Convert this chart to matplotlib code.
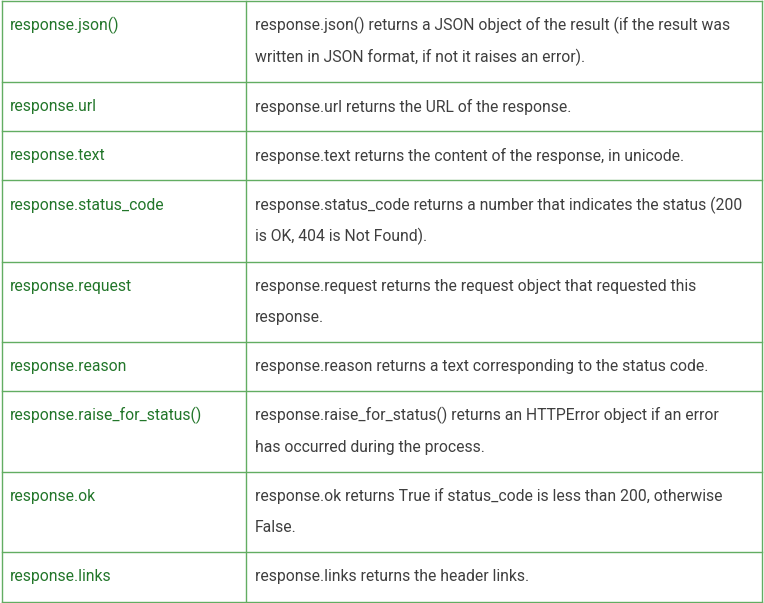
import matplotlib.pyplot as plt

# table content
methods = ['response.json()', 'response.url', 'response.text', 'response.status_code',
           'response.request', 'response.reason', 'response.raise_for_status()',
           'response.ok', 'response.links']
descriptions = [
    ['response.json() returns a JSON object of the result (if the result was',
     'written in JSON format, if not it raises an error).'],
    ['response.url returns the URL of the response.'],
    ['response.text returns the content of the response, in unicode.'],
    ['response.status_code returns a number that indicates the status (200',
     'is OK, 404 is Not Found).'],
    ['response.request returns the request object that requested this',
     'response.'],
    ['response.reason returns a text corresponding to the status code.'],
    ['response.raise_for_status() returns an HTTPError object if an error',
     'has occurred during the process.'],
    ['response.ok returns True if status_code is less than 200, otherwise',
     'False.'],
    ['response.links returns the header links.'],
]

# row edges in pixels (top to bottom)
row_edges = [1, 82, 131, 180, 262, 342, 391, 472, 552, 602]
col_edges = [2, 246, 762]

line_color = '#62ad62'
method_color = '#22762a'
text_color = '#3f3f3f'
line_gap = 31.5

fig = plt.figure(figsize=(7.64, 6.03), dpi=100)
ax = fig.add_axes([0, 0, 1, 1])
ax.set_xlim(0, 764)
ax.set_ylim(603, 0)
ax.axis('off')

for y in row_edges:
    ax.plot([col_edges[0], col_edges[-1]], [y, y], color=line_color, lw=1.0)
for x in col_edges:
    ax.plot([x, x], [row_edges[0], row_edges[-1]], color=line_color, lw=1.0)

for i, (m, desc) in enumerate(zip(methods, descriptions)):
    top, bottom = row_edges[i], row_edges[i + 1]
    mid = (top + bottom) / 2
    first = mid - line_gap * (len(desc) - 1) / 2
    ax.text(col_edges[0] + 8, first, m, color=method_color, fontsize=11.3,
            family='Roboto', va='center', ha='left')
    for j, line in enumerate(desc):
        ax.text(col_edges[1] + 9, first + j * line_gap, line, color=text_color,
                fontsize=11.3, family='Roboto', va='center', ha='left')

fig.savefig('out.png', dpi=100)
